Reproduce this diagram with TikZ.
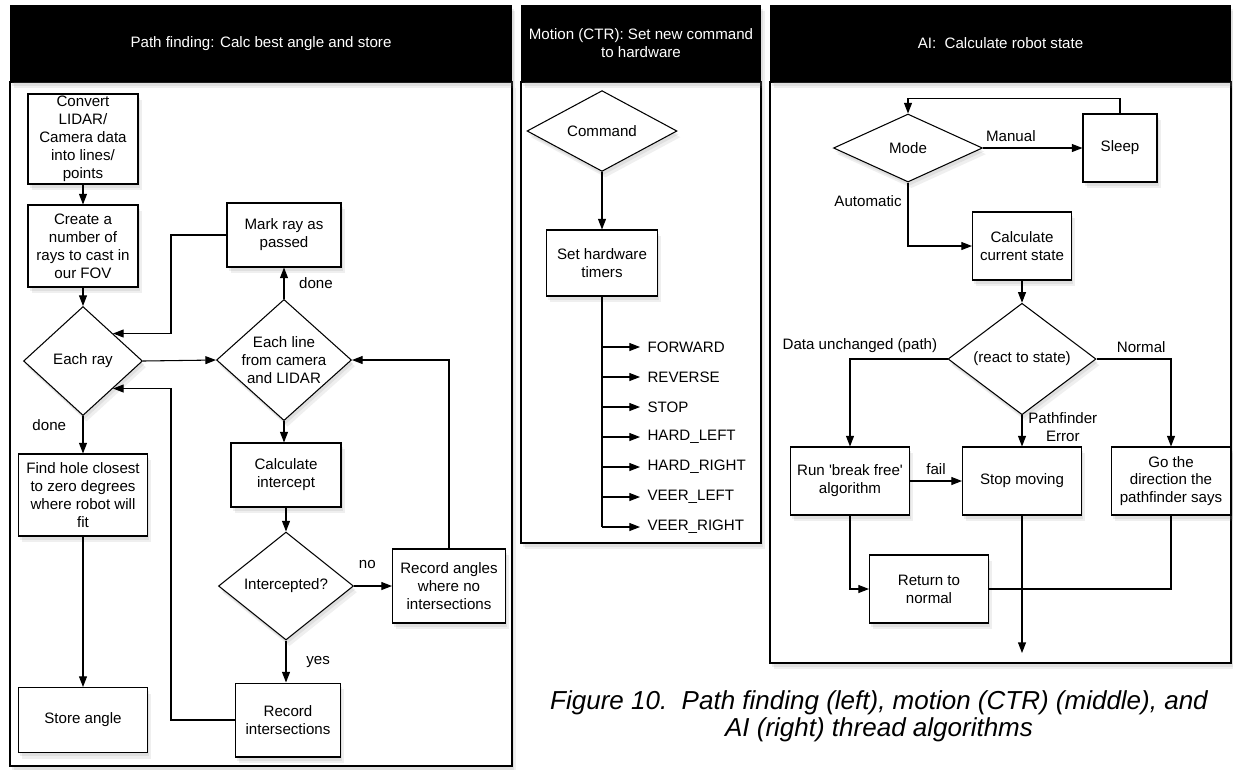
\documentclass[tikz,border=0pt]{standalone}
\usepackage{fontspec}
\usepackage{tikz}
\usetikzlibrary{shapes.geometric,arrows.meta,shadows}
\newfontfamily\chartfont{Liberation Sans}

\begin{document}
\begin{tikzpicture}[x=0.02cm,y=-0.02cm,
  font=\chartfont\fontsize{8.6}{10.2}\selectfont,
  line width=0.6pt,
  soft/.style={drop shadow={opacity=0.14,shadow xshift=1pt,shadow yshift=-2pt},
               drop shadow={opacity=0.12,shadow xshift=2pt,shadow yshift=-3.5pt}},
  head/.style={fill=black,text=white,align=center,soft},
  block/.style={draw,fill=white,align=center,inner sep=1pt,soft},
  choice/.style={diamond,draw,fill=white,align=center,inner sep=0pt,soft},
  flow/.style={-{Triangle[length=6pt,width=4.5pt]}}]

\useasboundingbox (0,0) rectangle (1233,769);

% Draw the three panels
\draw[soft,fill=white] (10,82) rectangle (512,766);
\draw[soft,fill=white] (521,82) rectangle (761,543);
\draw[soft,fill=white] (770,82) rectangle (1231,663);
\node[head,minimum width=10.04cm,minimum height=1.54cm] (pathhead) at (261,43.5) {Path finding: Calc best angle and store};
\node[head,minimum width=4.8cm,minimum height=1.54cm] (motionhead) at (641,43.5) {Motion (CTR): Set new command\\to hardware};
\node[head,minimum width=9.22cm,minimum height=1.54cm] (aihead) at (1000.5,43.5) {AI:\ \ Calculate robot state};

% Path finding steps
\node[block,minimum width=2.2cm,minimum height=1.8cm] (convert) at (83,139) {Convert\\LIDAR/\\Camera data\\into lines/\\points};
\node[block,minimum width=2.2cm,minimum height=1.64cm] (rays) at (83,246) {Create a\\number of\\rays to cast in\\our FOV};
\node[choice,minimum width=2.38cm,minimum height=2.18cm] (ray) at (83,361) {Each ray};
\node[block,minimum width=2.58cm,minimum height=1.64cm] (hole) at (83,495) {Find hole closest\\to zero degrees\\where robot will\\fit};
\node[block,minimum width=2.58cm,minimum height=1.3cm] (store) at (83,720) {Store angle};
\node[block,minimum width=2.28cm,minimum height=1.28cm] (mark) at (284,235) {Mark ray as\\passed};
\node[choice,inner sep=-1.5pt,minimum width=2.7cm,minimum height=2.26cm] (line) at (284,360) {Each line\\from camera\\and LIDAR};
\node[block,minimum width=2.2cm,minimum height=1.28cm] (calc) at (286,475) {Calculate\\intercept};
\node[choice,minimum width=2.7cm,minimum height=2.16cm] (icpt) at (286,586) {Intercepted?};
\node[block,minimum width=2.26cm,minimum height=1.48cm] (angles) at (449,586) {Record angles\\where no\\intersections};
\node[block,minimum width=2.1cm,minimum height=1.48cm] (inter) at (288,720) {Record\\intersections};
\coordinate (bend) at (171,0);

% Path finding connectors
\draw[flow] (convert.south) -- (rays.north);
\draw[flow] (rays.south) -- (ray.north);
\draw[flow] (ray.south) -- node[pos=0.25,left=6pt] (donea) {done} (hole.north);
\draw[flow] (hole.south) -- (store.north);
\draw[flow] (mark.west) -- (mark.west -| bend) -- (bend |- ray.north east) -- (ray.north east);
\draw[flow] (ray.east) -- (line.west);
\draw[flow] (line.north) -- node[right=5pt] (doneb) {done} (line.north |- mark.south);
\draw[flow] (line.south) -- (line.south |- calc.north);
\draw[flow] (calc.south) -- (icpt.north);
\draw[flow] (icpt.east) -- node[pos=0.35,above=6pt] (nolbl) {no} (angles.west);
\draw[flow] (icpt.south) -- node[right=8pt] (yeslbl) {yes} (icpt.south |- inter.north);
\draw[flow] (angles.north) |- (line.east);
\draw[flow] (inter.west) -- (inter.west -| bend) -- (bend |- ray.south east) -- (ray.south east);

% Motion steps
\node[choice,minimum width=3cm,minimum height=1.36cm] (command) at (602,131) {Command};
\node[block,minimum width=2.22cm,minimum height=1.32cm] (timers) at (602,263) {Set hardware\\timers};
\draw[flow] (command.south) -- (timers.north);
\foreach \cmd [count=\i] in {FORWARD,REVERSE,STOP,HARD\_LEFT,HARD\_RIGHT,VEER\_LEFT,VEER\_RIGHT} {
  \coordinate (tap\i) at (602,317+30*\i);
  \node[anchor=west,inner xsep=4pt] (out\i) at (640,317+30*\i) {\cmd};
  \draw[flow] (tap\i) -- (out\i.west);
}
\draw (timers.south) -- (tap7);

% AI steps
\node[choice,minimum width=2.98cm,minimum height=1.36cm] (mode) at (908,148) {Mode};
\node[block,minimum width=1.48cm,minimum height=1.36cm] (sleep) at (1120,148) {Sleep};
\node[block,minimum width=1.98cm,minimum height=1.36cm] (state) at (1022,246) {Calculate\\current state};
\node[choice,minimum width=2.96cm,minimum height=1.34cm] (react) at (1022,359) {(react to state)};
\node[block,minimum width=2.38cm,minimum height=1.36cm] (breakfree) at (850,481) {Run \textquotesingle break free\textquotesingle\\algorithm};
\node[block,minimum width=2.38cm,minimum height=1.36cm] (stop) at (1022,481) {Stop moving};
\node[block,minimum width=2.4cm,minimum height=1.36cm] (follow) at (1171,481) {Go the\\direction the\\pathfinder says};
\node[block,minimum width=2.38cm,minimum height=1.36cm] (normal) at (929,589) {Return to\\normal};
\coordinate (exit) at (1022,653);

% AI connectors
\draw[flow] (mode.east) -- node[pos=0.28,above] (manual) {Manual} (sleep.west);
\draw[flow] (sleep.north) -- ++(0,-15) -| (mode.north);
\draw[flow] (mode.south) |- node[pos=0.15,left] (automatic) {Automatic} (state.west);
\draw[flow] (state.south) -- (react.north);
\draw[flow] (react.west) -| node[pos=0.02,anchor=south east] (unchanged) {Data unchanged (path)} (breakfree.north);
\draw[flow] (react.east) -| node[pos=0.3,above] (normallbl) {Normal} (follow.north);
\draw[flow] (react.south) -- node[pos=0.38,right,align=center] (pferror) {Pathfinder\\Error} (stop.north);
\draw[flow] (breakfree.east) -- node[above] (faillbl) {fail} (stop.west);
\draw[flow] (breakfree.south) |- (normal.west);
\draw (follow.south) |- (normal.east);
\draw[flow] (stop.south) -- (exit);

% Caption
\node[align=center,font=\chartfont\itshape\fontsize{14.8}{15.6}\selectfont] (caption) at (879,716) {Figure 10.\ \ Path finding (left), motion (CTR) (middle), and\\AI (right) thread algorithms};

\end{tikzpicture}
\end{document}
